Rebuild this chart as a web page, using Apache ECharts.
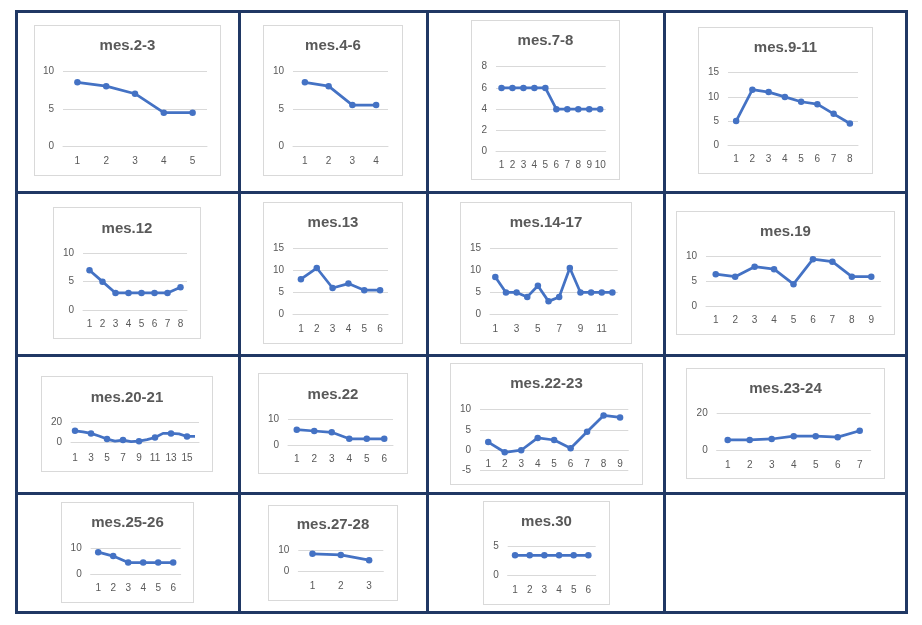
<!DOCTYPE html>
<html><head><meta charset="utf-8">
<script src="https://cdn.jsdelivr.net/npm/echarts@6/dist/echarts.min.js"></script>
<style>
html,body{margin:0;padding:0;background:#fff;width:922px;height:625px;overflow:hidden}
body{position:relative}
.ln{position:absolute;background:#203864}
.box{position:absolute;background:#fff;outline:1px solid #d9d9d9}
</style></head><body>
<script>
// ---- data ----
const titles = ['mes.2-3','mes.4-6','mes.7-8','mes.9-11','mes.12','mes.13','mes.14-17','mes.19',
                'mes.20-21','mes.22','mes.22-23','mes.23-24','mes.25-26','mes.27-28','mes.30'];
const mes2_3   = [8.5, 8, 7, 4.5, 4.5];
const mes4_6   = [8.5, 8, 5.5, 5.5];
const mes7_8   = [6, 6, 6, 6, 6, 4, 4, 4, 4, 4];
const mes9_11  = [5, 11.5, 11, 10, 9, 8.5, 6.5, 4.5];
const mes12    = [7, 5, 3, 3, 3, 3, 3, 4];
const mes13    = [8, 10.5, 6, 7, 5.5, 5.5];
const mes14_17 = [8.5, 5, 5, 4, 6.5, 3, 4, 10.5, 5, 5, 5, 5];
const mes19    = [6.5, 6, 8, 7.5, 4.5, 9.5, 9, 6, 6];
const mes20_21 = [11.5, 10.5, 9, 6.5, 3.5, 1.5, 2.5, 1, 1.5, 3, 5, 9, 9, 8.5, 6, 6];
const mes22    = [6, 5.5, 5, 2.5, 2.5, 2.5];
const mes22_23 = [2, -0.5, 0, 3, 2.5, 0.5, 4.5, 8.5, 8];
const mes23_24 = [5.5, 5.5, 6, 7.5, 7.5, 7, 10.5];
const mes25_26 = [8.5, 7, 4.5, 4.5, 4.5, 4.5];
const mes27_28 = [8.5, 8, 5.5];
const mes30    = [3.5, 3.5, 3.5, 3.5, 3.5, 3.5];
const seriesList = [mes2_3, mes4_6, mes7_8, mes9_11, mes12, mes13, mes14_17, mes19,
                    mes20_21, mes22, mes22_23, mes23_24, mes25_26, mes27_28, mes30];
// y-axis tick settings [min, max, interval]
const yTicks = [[0,10,5],[0,10,5],[0,8,2],[0,15,5],[0,10,5],[0,15,5],[0,15,5],[0,10,5],
                [0,20,20],[0,10,10],[-5,10,5],[0,20,20],[0,10,10],[0,10,10],[0,5,5]];
// x label interval (0 = every label, 1 = every other)
const xLabelStep = [0,0,0,0,0,0,1,0,1,0,0,0,0,0,0];

// ---- layout (page pixels) ----
// box: [x0,y0,x1,y1]; gx: plot x range; gy: [top gridline y, min gridline y]; t: title centre y; lx: x-label centre y; z: zero line y
const layout = [
  {box:[35,26,220,175],  gx:[63,207],     gy:[71,146.7],   t:47,    lx:162,   z:146.7},
  {box:[264,26,402,175], gx:[293,388],    gy:[71,146.7],   t:47,    lx:162,   z:146.7},
  {box:[472,21,619,179], gx:[496,605.7],  gy:[66.7,151.7], t:42.7,  lx:165.7, z:151.7},
  {box:[699,28,872,173], gx:[728,858],    gy:[72.7,145.3], t:49.3,  lx:160,   z:145.3},
  {box:[54,208,200,338], gx:[83,187],     gy:[253.3,310],  t:230,   lx:325,   z:310},
  {box:[264,203,402,343],gx:[293,388],    gy:[248,314.7],  t:224,   lx:329.3, z:314.7},
  {box:[461,203,631,343],gx:[490,617.7],  gy:[248,314.7],  t:224,   lx:329.3, z:314.7},
  {box:[677,212,894,334],gx:[706,881],    gy:[256.7,306.7],t:233.3, lx:320.7, z:306.7},
  {box:[42,377,212,471], gx:[71,199],     gy:[422,442.7],  t:399,   lx:458.3, z:442.7},
  {box:[259,374,407,473],gx:[288,393],    gy:[419.3,445.3],t:396,   lx:460,   z:445.3},
  {box:[451,364,642,484],gx:[480,628.3],  gy:[409.3,470.7],t:385,   lx:465,   z:450},
  {box:[687,369,884,478],gx:[716.7,870.7],gy:[413.3,450],  t:390,   lx:466,   z:450},
  {box:[62,503,193,602], gx:[90.7,180.7], gy:[548.3,574.3],t:524,   lx:589,   z:574.3},
  {box:[269,506,397,600],gx:[298.3,383.3],gy:[550.7,571.7],t:526.7, lx:586.7, z:571.7},
  {box:[484,502,609,604],gx:[507.7,595.7],gy:[546.7,575.3],t:523.3, lx:590.7, z:575.3}
];
const vLines = [16.7, 239.3, 427.5, 664.7, 906.7];
const hLines = [11, 192.3, 355.3, 493, 612.3];

const FONT = '"Liberation Sans", Arial, sans-serif';
const GREY = '#595959';
const BLUE = '#4472C4';

// table lines
vLines.forEach(x => {
  const d = document.createElement('div'); d.className = 'ln';
  d.style.left = Math.round(x - 1.5) + 'px'; d.style.top = Math.round(hLines[0] - 1.5) + 'px';
  d.style.width = '3px'; d.style.height = Math.round(hLines[hLines.length-1] - hLines[0] + 3) + 'px';
  document.body.appendChild(d);
});
hLines.forEach(y => {
  const d = document.createElement('div'); d.className = 'ln';
  d.style.top = Math.round(y - 1.5) + 'px'; d.style.left = Math.round(vLines[0] - 1.5) + 'px';
  d.style.height = '3px'; d.style.width = Math.round(vLines[vLines.length-1] - vLines[0] + 3) + 'px';
  document.body.appendChild(d);
});

seriesList.forEach((vals, i) => {
  const L = layout[i], b = L.box;
  const w = b[2] - b[0], h = b[3] - b[1];
  const div = document.createElement('div'); div.className = 'box';
  div.style.left = b[0] + 'px'; div.style.top = b[1] + 'px';
  div.style.width = w + 'px'; div.style.height = h + 'px';
  document.body.appendChild(div);
  const chart = echarts.init(div, null, {renderer: 'canvas', width: w, height: h});
  const cats = vals.map((_, k) => String(k + 1));
  const yt = yTicks[i];
  // category axis sits on the zero gridline
  const axisOffset = -(L.gy[1] - L.z);
  chart.setOption({
    animation: false,
    title: {
      text: titles[i], left: 'center', top: L.t - b[1] - 9, padding: 0,
      textStyle: {fontFamily: FONT, fontSize: 15, fontWeight: 'bold', color: GREY}
    },
    grid: {
      left: L.gx[0] - b[0], right: b[2] - L.gx[1], top: L.gy[0] - b[1], bottom: b[3] - L.gy[1],
      containLabel: false, outerBoundsMode: 'none'
    },
    xAxis: {
      type: 'category', data: cats, boundaryGap: true, position: 'bottom', offset: axisOffset,
      axisLine: {show: true, onZero: false, lineStyle: {color: '#d9d9d9', width: 1}},
      axisTick: {show: false},
      axisLabel: {interval: xLabelStep[i], hideOverlap: false, margin: L.lx - L.z - 5.5,
                  fontFamily: FONT, fontSize: 10, color: GREY}
    },
    yAxis: {
      type: 'value', min: yt[0], max: yt[1], interval: yt[2],
      axisLine: {show: false}, axisTick: {show: false},
      axisLabel: {margin: 9, fontFamily: FONT, fontSize: 10, color: GREY},
      splitLine: {lineStyle: {color: '#d9d9d9', width: 1}}
    },
    series: [{
      type: 'line', data: vals, symbol: 'circle', symbolSize: 6.5,
      lineStyle: {color: BLUE, width: 2.75}, itemStyle: {color: BLUE}
    }]
  });
});
</script>
</body></html>
